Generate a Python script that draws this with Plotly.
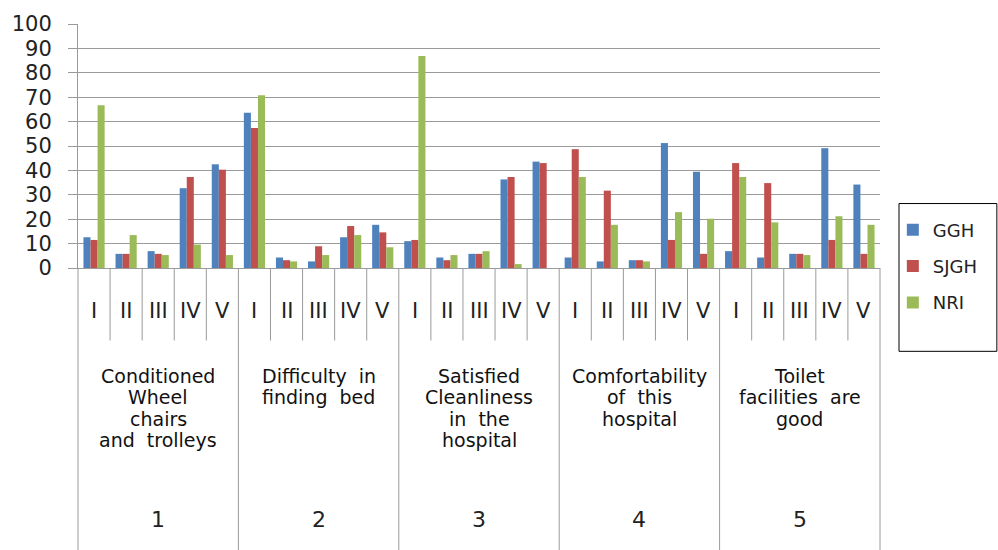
import plotly.graph_objects as go

# Survey questions (one list of lines per group) and the five response levels
groups = [
    ["Conditioned", "Wheel", "chairs", "and\u00a0 trolleys"],
    ["Difficulty\u00a0 in", "finding\u00a0 bed"],
    ["Satisfied", "Cleanliness", "in\u00a0 the", "hospital"],
    ["Comfortability", "of\u00a0 this", "hospital"],
    ["Toilet", "facilities\u00a0 are", "good"],
]
group_numbers = ["1", "2", "3", "4", "5"]
levels = ["I", "II", "III", "IV", "V"]

# Percentages per hospital, in order group 1 (I..V), group 2 (I..V), ...
ggh = [12.6, 5.8, 6.9, 32.7, 42.5,
       63.6, 4.3, 2.7, 12.6, 17.7,
       11.0, 4.3, 5.8, 36.3, 43.6,
       4.3, 2.7, 3.2, 51.2, 39.4,
       6.9, 4.3, 5.8, 49.1, 34.2]
sjgh = [11.5, 5.8, 5.8, 37.3, 40.3,
        57.4, 3.2, 8.9, 17.2, 14.6,
        11.5, 3.2, 5.8, 37.3, 43.0,
        48.7, 31.7, 3.2, 11.5, 5.8,
        43.0, 34.8, 5.8, 11.5, 5.8]
nri = [66.7, 13.5, 5.3, 9.6, 5.3,
       70.8, 2.7, 5.3, 13.5, 8.5,
       86.9, 5.3, 6.9, 1.6, 0.0,
       37.3, 17.7, 2.7, 22.9, 20.2,
       37.3, 18.7, 5.3, 21.2, 17.7]

series = [("GGH", ggh, "#4F81BD"), ("SJGH", sjgh, "#C0504D"), ("NRI", nri, "#9BBB59")]

n_cat = len(groups) * len(levels)
xpos = list(range(n_cat))

FONT = "DejaVu Sans"
LINE = "#9a9a9a"
PLOT_H = 246.0  # plot area height in px, used to place text below the axis

fig = go.Figure()
for name, vals, color in series:
    fig.add_trace(go.Bar(
        x=xpos, y=vals, name=name, legendgroup=name,
        marker=dict(color=color, line=dict(width=0)),
    ))

shapes = []
annotations = []

# Frame of the multi-level category axis
sub_bottom = -0.297
grp_bottom = -1.2
for k in range(n_cat - 1):
    boundary = k + 0.5
    bottom = grp_bottom if (k + 1) % len(levels) == 0 else sub_bottom
    shapes.append(dict(type="line", xref="x", yref="paper", x0=boundary, x1=boundary,
                       y0=0, y1=bottom, line=dict(color=LINE, width=1)))
for xp in (0, 1):
    shapes.append(dict(type="line", xref="paper", yref="paper", x0=xp, x1=xp,
                       y0=0, y1=grp_bottom, line=dict(color=LINE, width=1)))

# Legend frame
shapes.append(dict(type="rect", xref="paper", yref="paper",
                   x0=1.0237, x1=1.1457, y0=-0.3415, y1=0.2642,
                   line=dict(color="black", width=1), fillcolor="rgba(0,0,0,0)"))

# Level labels
for i in range(n_cat):
    annotations.append(dict(x=i, y=-0.178, xref="x", yref="paper", text=levels[i % len(levels)],
                            showarrow=False, yanchor="middle",
                            font=dict(family=FONT, size=21, color="#222")))

# Question labels (one annotation per line) and group numbers
line_step = 21.5 / PLOT_H
for g, (lines, num) in enumerate(zip(groups, group_numbers)):
    center = g * len(levels) + (len(levels) - 1) / 2
    for j, txt in enumerate(lines):
        annotations.append(dict(x=center, y=-(377 - 268) / PLOT_H - j * line_step,
                                xref="x", yref="paper", text=txt,
                                showarrow=False, yanchor="middle",
                                font=dict(family=FONT, size=19, color="#111")))
    annotations.append(dict(x=center, y=-1.031, xref="x", yref="paper", text=num,
                            showarrow=False, yanchor="middle",
                            font=dict(family=FONT, size=22, color="#222")))

fig.update_layout(
    width=998, height=550,
    margin=dict(l=77, r=118, t=22, b=282),
    paper_bgcolor="white", plot_bgcolor="white",
    barmode="group", bargap=0.34, bargroupgap=0,
    font=dict(family=FONT, color="#222"),
    shapes=shapes, annotations=annotations,
    legend=dict(
        x=1.016, y=0.2317, xanchor="left", yanchor="top",
        borderwidth=0, bgcolor="rgba(0,0,0,0)",
        font=dict(family=FONT, size=18, color="#222"),
        traceorder="grouped", tracegroupgap=10,
    ),
    xaxis=dict(range=[-0.5, n_cat - 0.5], showticklabels=False, ticks="",
               showgrid=False, zeroline=False, showline=True, linecolor=LINE, linewidth=1,
               fixedrange=True),
    yaxis=dict(range=[0, 100], dtick=10, showgrid=True, gridcolor=LINE, gridwidth=1,
               zeroline=False, showline=True, linecolor=LINE, linewidth=1,
               ticks="outside", ticklen=9, tickcolor=LINE, ticklabelstandoff=12,
               tickfont=dict(family=FONT, size=21, color="#222"), fixedrange=True),
)

fig.write_html("out.html")
